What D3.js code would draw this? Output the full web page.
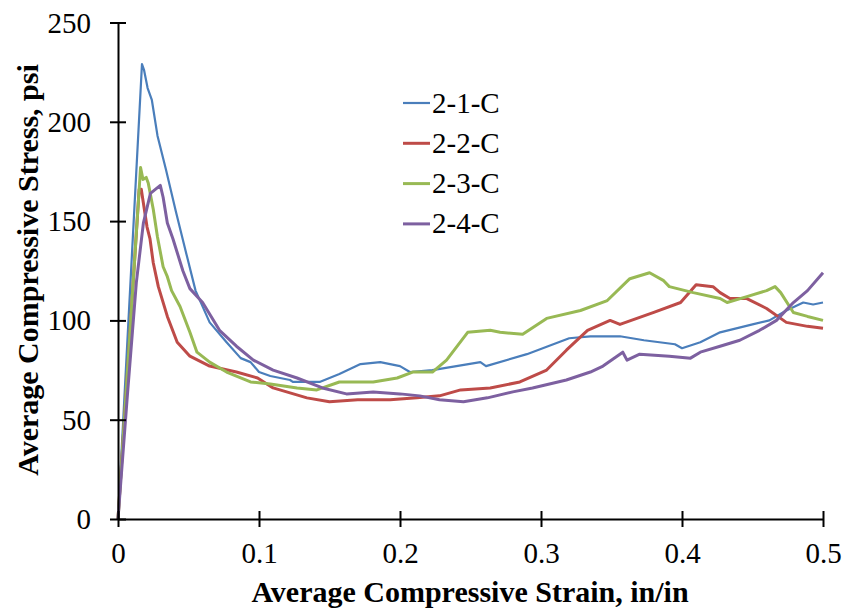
<!DOCTYPE html>
<html>
<head>
<meta charset="utf-8">
<script src="https://cdn.jsdelivr.net/npm/d3@7"></script>
<style>
  body { margin: 0; background: #fff; }
</style>
</head>
<body>
<div id="chart"></div>
<script>
// stress-strain data for the four specimens, [strain in/in, stress psi]
const series21 = [[0,0],[0.017,229],[0.0185,226],[0.021,217],[0.024,211],[0.028,193],[0.034,176],[0.041,155],[0.049,132],[0.055,115],[0.065,99],[0.077,89],[0.087,81],[0.094,79],[0.1,74],[0.108,72],[0.122,70],[0.124,69],[0.143,69],[0.157,73],[0.172,78],[0.186,79],[0.2,77],[0.207,74],[0.223,75],[0.24,77],[0.257,79],[0.261,77],[0.29,83],[0.32,91],[0.335,92],[0.356,92],[0.373,90],[0.384,89],[0.395,88],[0.4,86],[0.413,89],[0.427,94],[0.45,98],[0.462,100],[0.474,105],[0.486,109],[0.493,108],[0.5,109]];
const series22 = [[0,0],[0.015,166],[0.0165,166],[0.0206,147],[0.0227,141],[0.025,129],[0.0286,117],[0.035,102],[0.042,89],[0.051,82],[0.065,77],[0.084,74],[0.099,71],[0.11,66],[0.134,61],[0.15,59],[0.17,60],[0.193,60],[0.212,61],[0.228,62],[0.243,65],[0.264,66],[0.285,69],[0.304,75],[0.318,85],[0.333,95],[0.349,100],[0.356,98],[0.38,104],[0.399,109],[0.41,118],[0.422,117],[0.427,114],[0.434,111],[0.446,111],[0.46,106],[0.474,99],[0.489,97],[0.5,96]];
const series23 = [[0,0],[0.016,177],[0.0177,171],[0.02,172],[0.0215,169],[0.025,156],[0.028,142],[0.032,127],[0.035,122],[0.038,115],[0.044,107],[0.051,94],[0.056,84],[0.065,79],[0.077,74],[0.094,69],[0.108,68],[0.127,66],[0.141,65],[0.157,69],[0.181,69],[0.198,71],[0.209,74],[0.223,74],[0.233,80],[0.248,94],[0.264,95],[0.271,94],[0.287,93],[0.304,101],[0.328,105],[0.347,110],[0.363,121],[0.377,124],[0.387,120],[0.391,117],[0.408,114],[0.427,111],[0.432,109],[0.446,112],[0.46,115],[0.466,117],[0.47,114],[0.479,104],[0.489,102],[0.5,100]];
const series24 = [[0,0],[0.0064,60],[0.013,119],[0.018,149],[0.023,164],[0.03,168],[0.032,162],[0.035,149],[0.039,141],[0.046,125],[0.051,116],[0.06,109],[0.072,95],[0.084,87],[0.096,80],[0.11,75],[0.127,71],[0.145,66],[0.162,63],[0.181,64],[0.2,63],[0.214,62],[0.228,60],[0.245,59],[0.262,61],[0.28,64],[0.294,66],[0.318,70],[0.335,74],[0.344,77],[0.358,84],[0.361,80],[0.37,83],[0.391,82],[0.406,81],[0.413,84],[0.427,87],[0.441,90],[0.455,95],[0.467,100],[0.479,109],[0.489,115],[0.5,124]];

const seriesNames = ["2-1-C", "2-2-C", "2-3-C", "2-4-C"];
const seriesColors = ["#4a7ebb", "#be4b48", "#98b954", "#7d60a0"];
const seriesWidths = [2.2, 3, 3, 3];
const xTicks = [0, 0.1, 0.2, 0.3, 0.4, 0.5];
const yTicks = [0, 50, 100, 150, 200, 250];

const serif = "'Liberation Serif', 'Times New Roman', Times, serif";
const width = 844, height = 612;
const svg = d3.select("#chart").append("svg")
  .attr("width", width)
  .attr("height", height)
  .attr("font-family", serif);

const x = d3.scaleLinear().domain([0, 0.5]).range([118, 823]);
const y = d3.scaleLinear().domain([0, 250]).range([519, 22.5]);

// lines first so the axes sit on top
const line = d3.line().x(d => x(d[0])).y(d => y(d[1]));
const allSeries = [series21, series22, series23, series24];
svg.selectAll("path.series")
  .data(allSeries)
  .join("path")
  .attr("class", "series")
  .attr("d", line)
  .attr("fill", "none")
  .attr("stroke", (d, i) => seriesColors[i])
  .attr("stroke-width", (d, i) => seriesWidths[i])
  .attr("stroke-linejoin", "round");

// x axis
const xAxis = svg.append("g")
  .attr("transform", `translate(0,${y(0)})`)
  .call(d3.axisBottom(x).tickValues(xTicks).tickFormat(d => d === 0 ? "0" : d3.format(".1f")(d)).tickSizeOuter(0))
  .attr("font-family", serif);
xAxis.select(".domain").attr("stroke", "#000").attr("stroke-width", 2);
xAxis.selectAll(".tick line").attr("y1", -8).attr("y2", 8).attr("stroke", "#000").attr("stroke-width", 2);
xAxis.selectAll(".tick text")
  .attr("y", 44).attr("dy", 0)
  .attr("font-family", serif)
  .attr("font-size", 29).attr("fill", "#000");

// y axis
const yAxis = svg.append("g")
  .attr("transform", `translate(${x(0)},0)`)
  .call(d3.axisLeft(y).tickValues(yTicks).tickSizeOuter(0))
  .attr("font-family", serif);
yAxis.select(".domain").attr("stroke", "#000").attr("stroke-width", 2);
yAxis.selectAll(".tick line").attr("x1", -8).attr("x2", 8).attr("stroke", "#000").attr("stroke-width", 2);
yAxis.selectAll(".tick text")
  .attr("x", -27).attr("dy", "0.33em")
  .attr("font-family", serif)
  .attr("font-size", 29).attr("fill", "#000");

// axis titles
svg.append("text")
  .attr("x", 470).attr("y", 602)
  .attr("text-anchor", "middle")
  .attr("font-family", serif)
  .attr("font-size", 30).attr("font-weight", "bold")
  .text("Average Compressive Strain, in/in");

svg.append("text")
  .attr("transform", "translate(38,270) rotate(-90)")
  .attr("text-anchor", "middle")
  .attr("font-family", serif)
  .attr("font-size", 30).attr("font-weight", "bold")
  .text("Average Compressive Stress, psi");

// legend
const legend = svg.append("g").attr("transform", "translate(403,103)");
const rows = legend.selectAll("g")
  .data(seriesNames)
  .join("g")
  .attr("transform", (d, i) => `translate(0,${i * 40.3})`);
rows.append("line")
  .attr("x1", 0).attr("x2", 27)
  .attr("stroke", (d, i) => seriesColors[i])
  .attr("stroke-width", (d, i) => seriesWidths[i]);
rows.append("text")
  .attr("x", 29).attr("dy", "0.33em")
  .attr("font-family", serif)
  .attr("font-size", 29)
  .text(d => d);
</script>
</body>
</html>
